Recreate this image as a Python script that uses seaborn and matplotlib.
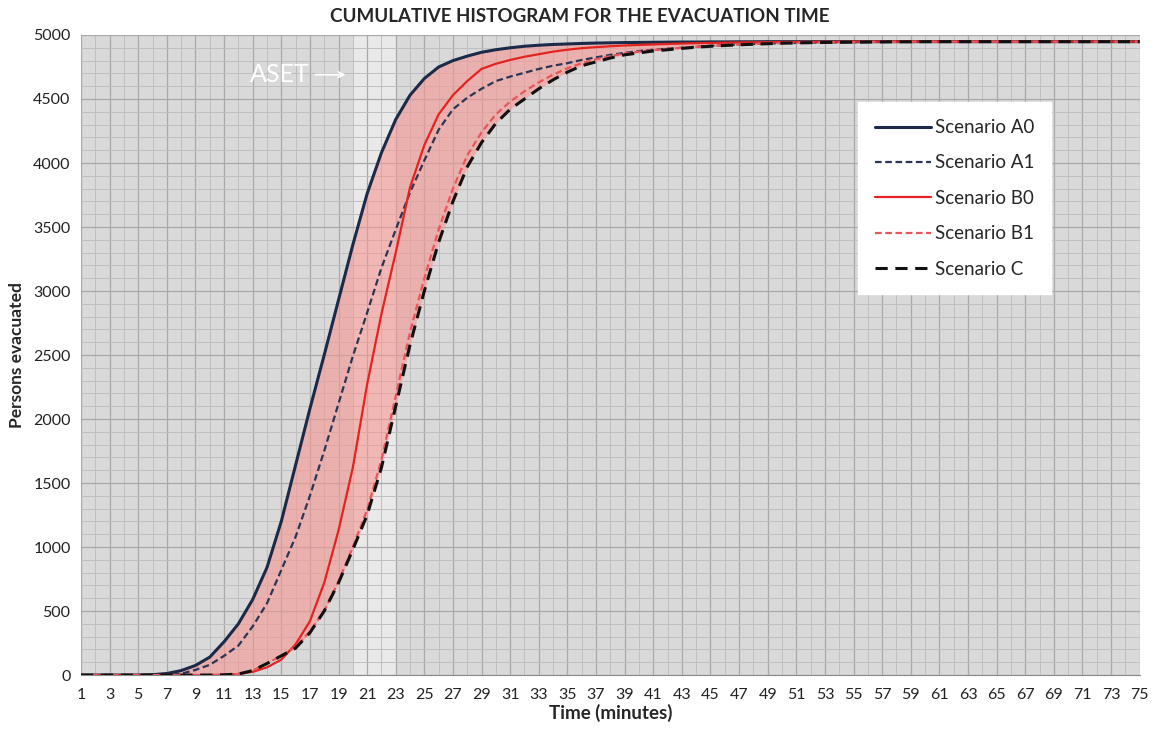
import numpy as np
import pandas as pd
import matplotlib
matplotlib.use('Agg')
import matplotlib.pyplot as plt
import seaborn as sns

# minutes 1..75
time = list(range(1, 76))

scenario_a0 = [0, 0, 0, 0, 0, 3, 12, 35, 75, 140,
               260, 400, 590, 840, 1200, 1640, 2080, 2500, 2930, 3360,
               3760, 4080, 4340, 4530, 4660, 4750, 4800, 4835, 4865, 4885,
               4900, 4912, 4920, 4926, 4930, 4934, 4937, 4939, 4941, 4942,
               4943, 4944, 4945, 4945, 4946, 4946, 4947, 4947, 4948, 4948,
               4948, 4948, 4948, 4948, 4948, 4948, 4948, 4948, 4948, 4948,
               4948, 4948, 4948, 4948, 4948, 4948, 4948, 4948, 4948, 4948,
               4948, 4948, 4948, 4948, 4948]
scenario_a1 = [0, 0, 0, 0, 0, 0, 2, 10, 40, 80,
               150, 230, 380, 560, 820, 1080, 1400, 1750, 2120, 2490,
               2830, 3180, 3480, 3770, 4020, 4260, 4420, 4510, 4580, 4640,
               4675, 4705, 4735, 4760, 4780, 4805, 4825, 4845, 4860, 4875,
               4885, 4893, 4900, 4908, 4915, 4920, 4925, 4929, 4933, 4936,
               4938, 4940, 4942, 4943, 4944, 4945, 4946, 4946, 4947, 4947,
               4948, 4948, 4948, 4948, 4948, 4948, 4948, 4948, 4948, 4948,
               4948, 4948, 4948, 4948, 4948]
scenario_b0 = [0, 0, 0, 0, 0, 0, 0, 0, 0, 0,
               2, 8, 25, 60, 120, 240, 420, 720, 1130, 1620,
               2270, 2820, 3300, 3810, 4140, 4380, 4530, 4640, 4735, 4775,
               4805, 4830, 4850, 4870, 4885, 4897, 4905, 4912, 4918, 4922,
               4926, 4930, 4933, 4936, 4938, 4940, 4942, 4943, 4944, 4945,
               4946, 4946, 4947, 4947, 4948, 4948, 4948, 4948, 4948, 4948,
               4948, 4948, 4948, 4948, 4948, 4948, 4948, 4948, 4948, 4948,
               4948, 4948, 4948, 4948, 4948]
scenario_b1 = [0, 0, 0, 0, 0, 0, 0, 0, 0, 0,
               2, 8, 35, 90, 150, 220, 340, 500, 730, 1000,
               1290, 1680, 2180, 2680, 3100, 3480, 3800, 4060, 4240, 4380,
               4480, 4560, 4630, 4690, 4740, 4780, 4810, 4835, 4855, 4870,
               4882, 4892, 4900, 4908, 4915, 4920, 4925, 4930, 4934, 4937,
               4939, 4941, 4943, 4944, 4945, 4946, 4947, 4947, 4948, 4948,
               4948, 4948, 4948, 4948, 4948, 4948, 4948, 4948, 4948, 4948,
               4948, 4948, 4948, 4948, 4948]
scenario_c = [0, 0, 0, 0, 0, 0, 0, 0, 0, 0,
              2, 8, 35, 90, 150, 210, 330, 500, 720, 980,
              1250, 1620, 2100, 2580, 3000, 3380, 3700, 3970, 4160, 4310,
              4420, 4500, 4580, 4650, 4710, 4760, 4790, 4820, 4845, 4860,
              4875, 4885, 4895, 4905, 4912, 4918, 4923, 4928, 4932, 4936,
              4938, 4940, 4942, 4943, 4944, 4945, 4946, 4947, 4947, 4948,
              4948, 4948, 4948, 4948, 4948, 4948, 4948, 4948, 4948, 4948,
              4948, 4948, 4948, 4948, 4948]

aset_start, aset_end = 20, 23

sns.set_style('white')
plt.rcParams['font.family'] = ['Lato', 'DejaVu Sans']

fig = plt.figure(figsize=(11.57, 7.29), dpi=100)
ax = fig.add_axes([0.070, 0.074, 0.915, 0.878])
ax.set_facecolor('#d9d9d9')

# ASET band
ax.axvspan(aset_start, aset_end, color='#e9e9e9', zorder=0.2, lw=0)

# shaded range between fastest and slowest
ax.fill_between(time, scenario_c, scenario_a0, color='#f59691', alpha=0.6, lw=0, zorder=1)

sns.lineplot(x=time, y=scenario_a0, ax=ax, color='#1c2a4a', lw=2.2, label='Scenario A0', zorder=3)
sns.lineplot(x=time, y=scenario_a1, ax=ax, color='#2a3556', lw=1.6, linestyle=(0, (3, 1.6)), label='Scenario A1', zorder=3)
sns.lineplot(x=time, y=scenario_b0, ax=ax, color='#e42320', lw=1.6, label='Scenario B0', zorder=3)
sns.lineplot(x=time, y=scenario_b1, ax=ax, color='#e8555a', lw=1.6, linestyle=(0, (3, 1.6)), label='Scenario B1', zorder=3)
sns.lineplot(x=time, y=scenario_c, ax=ax, color='#111111', lw=2.2, linestyle=(0, (4, 2.5)), label='Scenario C', zorder=3)

ax.set_xlim(1, 75)
ax.set_ylim(0, 5000)
ax.set_xticks(range(1, 76, 2))
ax.set_xticks(range(2, 75, 2), minor=True)
ax.set_yticks(range(0, 5001, 500))
ax.set_yticks(range(0, 5001, 100), minor=True)
ax.set_axisbelow(True)
ax.grid(which='major', color='#a9a9a9', lw=0.9)
ax.grid(which='minor', color='#bfbfbf', lw=0.7)
ax.tick_params(axis='x', which='both', length=5, color='#8a8a8a', labelsize=11.5, labelcolor='#222222', pad=4)
ax.tick_params(axis='y', which='major', length=4, color='#8a8a8a', labelsize=11.5, labelcolor='#222222')
ax.tick_params(axis='y', which='minor', length=0)
for s in ['top', 'right', 'left']:
    ax.spines[s].set_visible(False)
ax.spines['bottom'].set_color('#8a8a8a')

ax.set_xlabel('Time (minutes)', fontsize=13.5, fontweight='bold', labelpad=2)
ax.set_ylabel('Persons evacuated', fontsize=12.5, fontweight='bold', labelpad=6)
fig.text(0.501, 0.977, 'CUMULATIVE HISTOGRAM FOR THE EVACUATION TIME', ha='center', va='center',
         fontsize=13.5, fontweight='bold')

ax.text(14.9, 4690, 'ASET', color='white', fontsize=18, ha='center', va='center')
ax.annotate('', xy=(19.7, 4690), xytext=(17.2, 4690),
            arrowprops=dict(arrowstyle='->', color='white', lw=1.3))

leg = ax.legend(loc='upper left', bbox_to_anchor=(0.734, 0.895), frameon=True, fancybox=False,
                edgecolor='white', facecolor='white', framealpha=1, fontsize=13.5,
                handlelength=3.0, handletextpad=0.2, labelspacing=0.98, borderpad=0.9,
                borderaxespad=0)
leg.set_zorder(5)

fig.savefig('out.png', dpi=100)
